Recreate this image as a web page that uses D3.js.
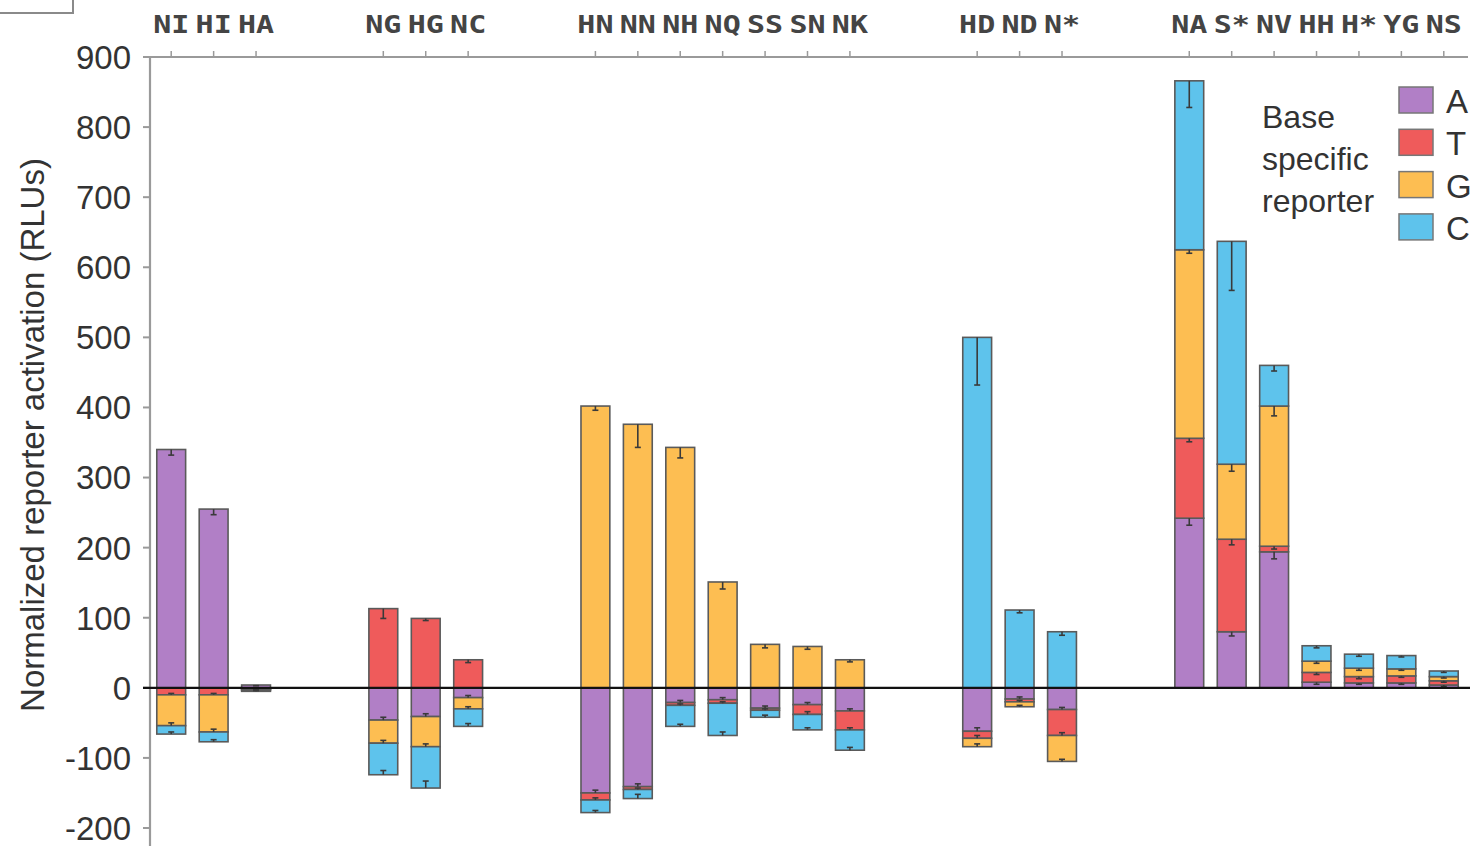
<!DOCTYPE html>
<html>
<head>
<meta charset="utf-8">
<script src="https://cdn.jsdelivr.net/npm/d3@7"></script>
<style>
  html, body { margin: 0; padding: 0; background: #fff; }
  svg { display: block; }
</style>
</head>
<body>
<svg id="chart" width="1482" height="846"></svg>
<script>
// ---- data ----
const groups = [
  ["NI", "HI", "HA"],
  ["NG", "HG", "NC"],
  ["HN", "NN", "NH", "NQ", "SS", "SN", "NK"],
  ["HD", "ND", "N*"],
  ["NA", "S*", "NV", "HH", "H*", "YG", "NS"]
];
const categories = groups.flat();
const bases = ["A", "T", "G", "C"];
const valA = [340, 255, 4, -46, -41, -14, -150, -141, -21, -17, -29, -24, -33, -62, -16, -31, 242, 80, 194, 8, 7, 7, 4];
const valT = [-10, -10, -2, 113, 99, 40, -10, -4, -4, -5, -3, -14, -27, -10, -4, -37, 114, 132, 8, 14, 9, 10, 6];
const valG = [-44, -53, -1, -33, -43, -16, 402, 376, 343, 151, 62, 59, 40, -12, -7, -37, 269, 107, 200, 16, 12, 10, 6];
const valC = [-12, -14, -2, -45, -59, -25, -18, -13, -30, -46, -10, -22, -29, 500, 111, 80, 241, 318, 58, 22, 20, 19, 8];
const errA = [8, 8, 1, 4, 4, 3, 4, 4, 3, 3, 3, 3, 3, 5, 3, 3, 10, 6, 10, 3, 2, 2, 2];
const errT = [2, 2, 1, 14, 3, 4, 3, 2, 2, 2, 2, 4, 3, 4, 2, 4, 5, 8, 4, 3, 3, 2, 2];
const errG = [4, 4, 1, 4, 4, 3, 6, 33, 15, 10, 5, 4, 3, 4, 2, 3, 5, 10, 14, 3, 3, 2, 2];
const errC = [3, 3, 1, 6, 10, 4, 3, 6, 3, 5, 3, 3, 4, 68, 4, 5, 38, 70, 8, 3, 3, 2, 2];
const yTicks = [-200, -100, 0, 100, 200, 300, 400, 500, 600, 700, 800, 900];
const legendTitle = ["Base", "specific", "reporter"];
const colors = { A: "#B17FC6", T: "#EF5B5B", G: "#FDBE52", C: "#5EC3EC" };

// ---- layout ----
const svg = d3.select("#chart");
const FONT = "'Liberation Sans', Arial, Helvetica, sans-serif";

// slot domain with two blank slots between groups
const slots = [];
groups.forEach((g, i) => {
  if (i > 0) { slots.push("_gap" + i + "a"); slots.push("_gap" + i + "b"); }
  g.forEach(c => slots.push(c));
});

const x = d3.scaleBand().domain(slots).range([150, 1465]).paddingInner(0.32).paddingOuter(0.16);
const y = d3.scaleLinear().domain([-200, 900]).range([828, 57]);

const rows = categories.map((c, i) => ({
  cat: c, A: valA[i], T: valT[i], G: valG[i], C: valC[i],
  eA: errA[i], eT: errT[i], eG: errG[i], eC: errC[i]
}));

const series = d3.stack().keys(bases).offset(d3.stackOffsetDiverging)(rows);

// top-left panel box remnant
svg.append("rect").attr("x", -2).attr("y", -2).attr("width", 75).attr("height", 15)
  .attr("fill", "#fff").attr("stroke", "#8a8a8a").attr("stroke-width", 2);

// bars
const gBars = svg.append("g");
series.forEach(s => {
  gBars.selectAll(null).data(s).enter().append("rect")
    .attr("x", d => x(d.data.cat))
    .attr("width", x.bandwidth())
    .attr("y", d => y(Math.max(d[0], d[1])))
    .attr("height", d => Math.abs(y(d[0]) - y(d[1])))
    .attr("fill", colors[s.key])
    .attr("stroke", "#5a5a5a")
    .attr("stroke-width", 1.6);
});

// error bars (drawn inward from each segment's outer end)
const gErr = svg.append("g").attr("stroke", "#3a3a3a").attr("stroke-width", 1.6).attr("fill", "none");
series.forEach(s => {
  s.forEach(d => {
    const v = d.data[s.key];
    const e = d.data["e" + s.key];
    if (!v) return;
    const outer = v > 0 ? d[1] : d[0];
    const inner = v > 0 ? outer - e : outer + e;
    const cx = x(d.data.cat) + x.bandwidth() / 2;
    gErr.append("line").attr("x1", cx).attr("x2", cx).attr("y1", y(outer)).attr("y2", y(inner));
    gErr.append("line").attr("x1", cx - 3).attr("x2", cx + 3).attr("y1", y(inner)).attr("y2", y(inner));
  });
});

// left y axis
const axisColor = "#9a9a9a";
svg.append("line").attr("x1", 150).attr("x2", 150).attr("y1", 57).attr("y2", 846)
  .attr("stroke", axisColor).attr("stroke-width", 2.2);
const gY = svg.append("g");
gY.selectAll("line").data(yTicks).enter().append("line")
  .attr("x1", 143).attr("x2", 150).attr("y1", d => y(d)).attr("y2", d => y(d))
  .attr("stroke", axisColor).attr("stroke-width", 2);
gY.selectAll("text").data(yTicks).enter().append("text")
  .attr("x", 131).attr("y", d => y(d)).attr("dy", "0.36em")
  .attr("text-anchor", "end").attr("font-family", FONT).attr("font-size", 33)
  .attr("fill", "#333").text(d => d);

// top axis with category labels
svg.append("line").attr("x1", 150).attr("x2", 1468).attr("y1", 57).attr("y2", 57)
  .attr("stroke", axisColor).attr("stroke-width", 2.2);
const gTop = svg.append("g");
gTop.selectAll("line").data(categories).enter().append("line")
  .attr("x1", d => x(d) + x.bandwidth() / 2).attr("x2", d => x(d) + x.bandwidth() / 2)
  .attr("y1", 51).attr("y2", 57).attr("stroke", axisColor).attr("stroke-width", 1.5);
gTop.selectAll("text").data(categories).enter().append("text")
  .attr("transform", d => `translate(${x(d) + x.bandwidth() / 2},33) scale(1.2,1)`)
  .attr("text-anchor", "middle")
  .attr("font-family", "'DejaVu Sans Mono', monospace").attr("font-weight", "bold")
  .attr("font-size", 25).attr("fill", "#444").text(d => d);

// zero line
svg.append("line").attr("x1", 143).attr("x2", 1470).attr("y1", y(0)).attr("y2", y(0))
  .attr("stroke", "#111").attr("stroke-width", 2.2);

// y axis title
svg.append("text")
  .attr("transform", `translate(44,${(155 + 715) / 2}) rotate(-90)`)
  .attr("text-anchor", "middle").attr("font-family", FONT).attr("font-size", 33)
  .attr("fill", "#333").text("Normalized reporter activation (RLUs)");

// legend
const gL = svg.append("g");
gL.selectAll("text.t").data(legendTitle).enter().append("text").attr("class", "t")
  .attr("x", 1262).attr("y", (d, i) => 128 + i * 42)
  .attr("font-family", FONT).attr("font-size", 32).attr("fill", "#333").text(d => d);
const li = gL.selectAll("g.item").data(bases).enter().append("g").attr("class", "item")
  .attr("transform", (d, i) => `translate(1399,${87 + i * 42.3})`);
li.append("rect").attr("width", 34).attr("height", 26)
  .attr("fill", d => colors[d]).attr("stroke", "#777").attr("stroke-width", 1.5);
li.append("text").attr("x", 47).attr("y", 26)
  .attr("font-family", FONT).attr("font-size", 33).attr("fill", "#333").text(d => d);
</script>
</body>
</html>
